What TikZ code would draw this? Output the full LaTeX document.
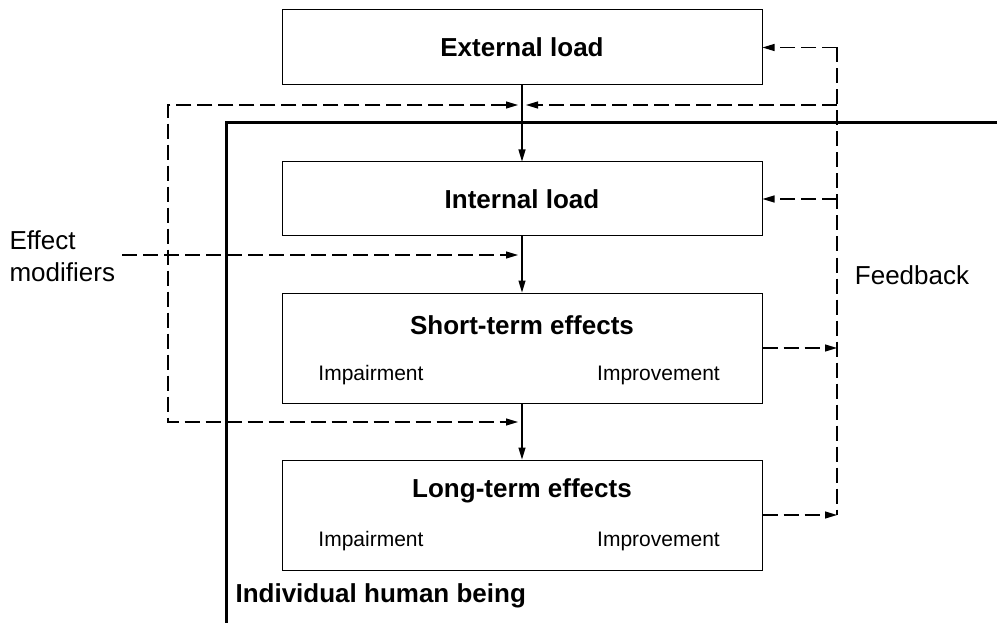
\documentclass[tikz,border=0pt]{standalone}
\usepackage{fontspec}
\setmainfont{Liberation Sans}
\usetikzlibrary{arrows.meta}

\tikzset{
  box/.style={draw, line width=1pt, minimum width=480pt, inner sep=0pt},
  title/.style={font=\fontsize{26}{31}\selectfont\bfseries, inner sep=0pt},
  sub/.style={font=\fontsize{21}{25}\selectfont, inner sep=0pt},
  label/.style={font=\fontsize{26}{32}\selectfont, inner sep=0pt, align=left},
  fb/.style={dash pattern=on 15pt off 6pt, line width=1.1pt},
}

\begin{document}
\begin{tikzpicture}[x=1pt,y=-1pt,line width=1.1pt,>={Triangle[length=12pt,width=7pt]}]
\useasboundingbox (0,0) rectangle (997,623);
% the four stages
\node [box, minimum height=75pt]  (ext)   at (522,47.5) {};
\node [box, minimum height=74pt]  (int)   at (522,199)  {};
\node [box, minimum height=110pt] (short) at (522,348)  {};
\node [box, minimum height=110pt] (long)  at (522,515)  {};
\node [title] (exttxt)   at (ext)       {External load};
\node [title] (inttxt)   at (int)       {Internal load};
\node [title] (shorttxt) at (522,325)   {Short-term effects};
\node [sub]   (shortimp) at (371,375)   {Impairment};
\node [sub]   (shortimv) at (658.5,375) {Improvement};
\node [title] (longtxt)  at (522,491)   {Long-term effects};
\node [sub]   (longimp)  at (371,541)   {Impairment};
\node [sub]   (longimv)  at (658.5,541) {Improvement};

% the individual
\coordinate (hbot) at (226,623);
\coordinate (hcorner) at (226,123);
\coordinate (hright) at (997,123);
\draw [line width=3pt] (hbot) -- (hcorner) -- (hright);
\node [title, anchor=west] (human) at (235,596) {Individual human being};

% main chain
\begin{scope}[->]
	\draw (ext) -- (int);
	\draw (int) -- (short);
	\draw (short) -- (long);
\end{scope}

% effect modifiers
\node [label, anchor=west] (mod) at (9,256) {Effect\\modifiers};
\coordinate (modin) at (522,255);
\coordinate (top) at (522,105);
\coordinate (mid) at (522,422);
\draw [fb,->,shorten >=4pt] (122,255) -- (modin);
\draw [fb,<->,shorten <=4pt,shorten >=4pt] (top) -- (168,105) -- (168,422) -- (mid);

% feedback
\node [label] (fbtxt) at (912,275) {Feedback};
\coordinate (fbtop) at (837,47.5);
\draw [fb] (fbtop) -- (long.east -| fbtop);
\begin{scope}[fb,->]
	\draw (fbtop) -- (ext.east);
	\draw (fbtop |- top) -- ([xshift=4pt]top);
	\draw (fbtop |- int.east) -- (int.east);
	\draw (short.east) -- (short.east -| fbtop);
	\draw (long.east) -- (long.east -| fbtop);
\end{scope}
\end{tikzpicture}
\end{document}
